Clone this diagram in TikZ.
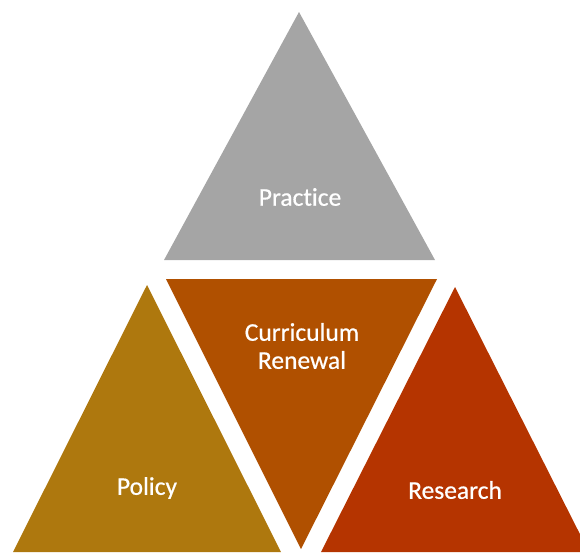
\documentclass[tikz,border=0pt]{standalone}
\usepackage{fontspec}
\setmainfont{Carlito}[Ligatures={NoCommon,NoContextual},FakeBold=0.6]
\definecolor{cgray}{HTML}{A5A5A5}
\definecolor{cgold}{HTML}{AE780E}
\definecolor{cbrown}{HTML}{B05000}
\definecolor{cred}{HTML}{B53400}
\begin{document}
\begin{tikzpicture}[x=1pt,y=-1pt,
  lab/.style={text=white,font=\fontsize{25.5}{28}\selectfont,align=center,inner sep=0pt}]
\useasboundingbox (0,0) rectangle (580,552);
\clip (0,0) rectangle (580,552);
\fill[cgray] (299,12) -- (164,260) -- (435,260) -- cycle;
\fill[cbrown] (166,279) -- (437,279) -- (301,549) -- cycle;
\fill[cgold] (147,285) -- (13,552) -- (281,552) -- cycle;
\fill[cred] (455,287) -- (321,552) -- (589,552) -- cycle;
\node[lab] (practice) at (300,197) {Practice};
\node[lab] (curr) at (302,346) {Curriculum\\Renewal};
\node[lab] (policy) at (147,488) {Policy};
\node[lab] (research) at (455,490) {Research};
\end{tikzpicture}
\end{document}
